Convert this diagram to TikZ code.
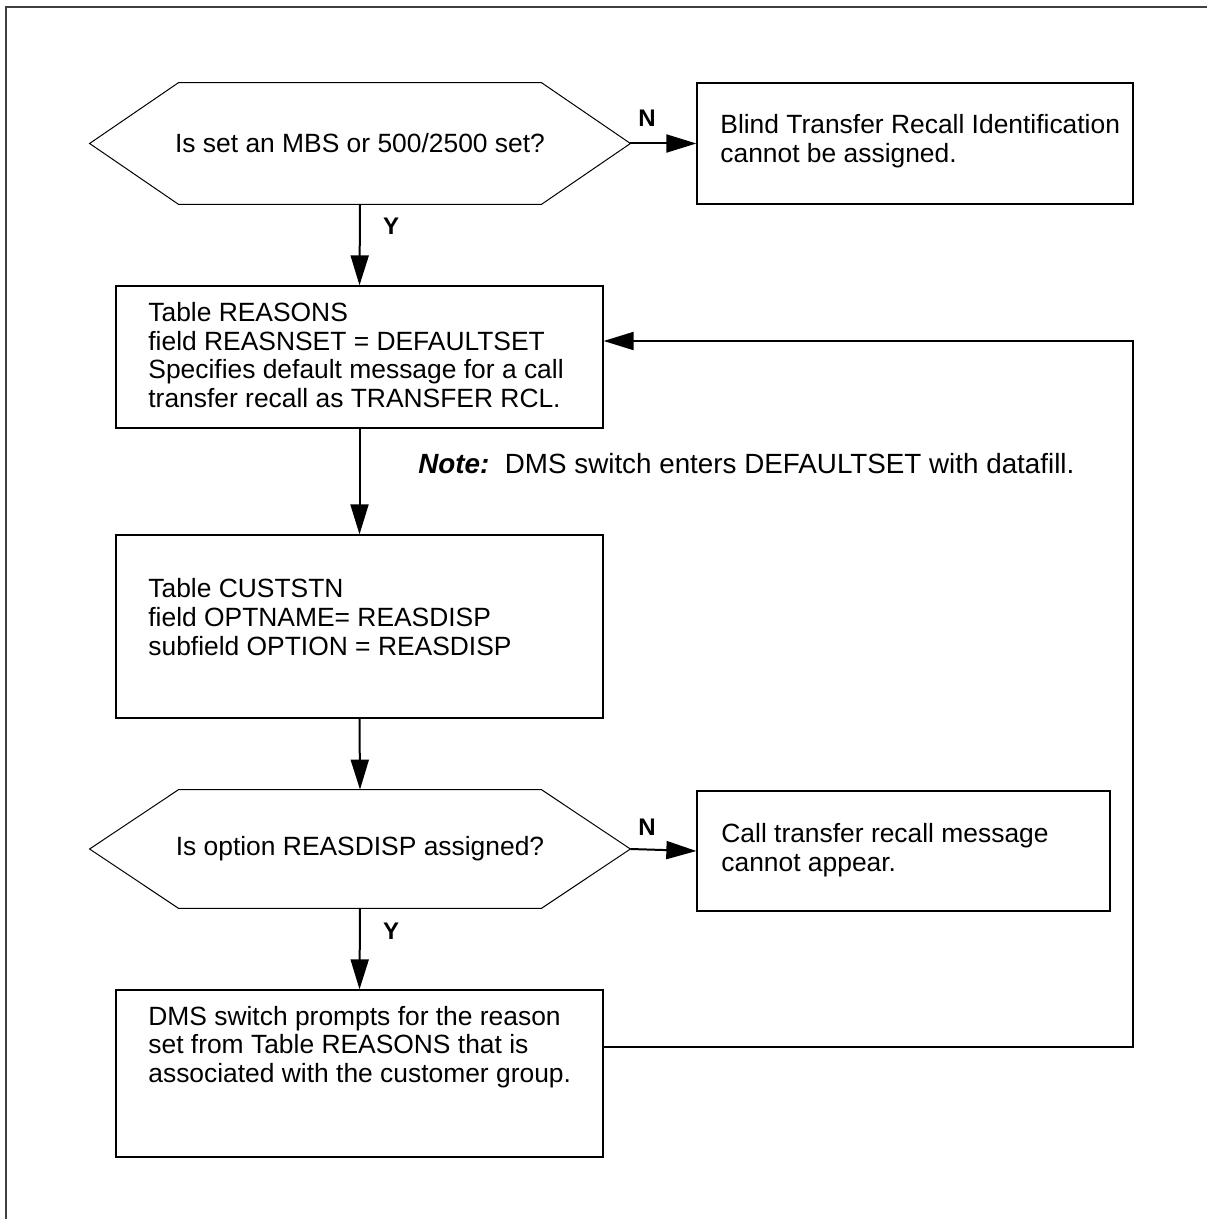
\documentclass[tikz,border=0pt]{standalone}
\usepackage{fontspec}
\setmainfont{Liberation Sans}
\usetikzlibrary{arrows.meta,calc}

\newcommand\bodyfont{\fontsize{13.2}{14.4}\selectfont}
\newcommand\notefont{\fontsize{13.9}{15}\selectfont}
\newcommand\flagfont{\fontsize{12}{14}\selectfont\bfseries}

% outline of a decision node: a hexagon inside the node's bounding box
\newcommand\drawhex[1]{%
  \draw[hexline] (#1.west) -- ($(#1.north west)+(89,0)$) -- ($(#1.north east)+(-89,0)$)
    -- (#1.east) -- ($(#1.south east)+(-89,0)$) -- ($(#1.south west)+(89,0)$) -- cycle;}

\begin{document}
\begin{tikzpicture}[x=0.5pt,y=-0.5pt,
  box/.style={draw, line width=0.65pt, inner sep=0pt},
  hexline/.style={line width=0.5pt},
  decision/.style={inner sep=0pt, font=\bodyfont, minimum width=270pt},
  txt/.style={inner sep=0pt, align=left, anchor=west, font=\bodyfont},
  flag/.style={inner sep=0pt, font=\flagfont},
  flow/.style={line width=1pt, -{Triangle[length=15pt,width=9pt]}}]

\useasboundingbox (0,0) rectangle (1207,1219);

% page frame
\draw[line width=0.8pt, black!75] (6,1219) -- (6,7) -- (1207,7);

% first decision
\node[decision, minimum height=60.5pt] (q1) at (360,143.5) {Is set an MBS or 500/2500 set?};
\drawhex{q1}

\node[box, minimum width=218pt, minimum height=60.5pt] (blind) at (915,143.5) {};
\node[txt] (blindtext) at (720,141) {Blind Transfer Recall Identification\\cannot be assigned.};

% table REASONS
\node[box, minimum width=243.5pt, minimum height=71pt] (reasons) at (359.5,357) {};
\node[txt] (reasonstext) at (148,355) {Table REASONS\\field REASNSET = DEFAULTSET\\Specifies default message for a call\\transfer recall as TRANSFER RCL.};

\node[txt, font=\notefont] (note) at (418,464) {\textbf{\textit{Note:}}\ \ DMS switch enters DEFAULTSET with datafill.};

% table CUSTSTN
\node[box, minimum width=243.5pt, minimum height=91.5pt] (custstn) at (359.5,626.5) {};
\node[txt] (custstntext) at (148,617) {Table CUSTSTN\\field OPTNAME= REASDISP\\subfield OPTION = REASDISP};

% second decision
\node[decision, minimum height=59pt] (q2) at (360,849) {Is option REASDISP assigned?};
\drawhex{q2}

\node[box, minimum width=206.5pt, minimum height=60pt] (callbox) at (903.5,851) {};
\node[txt] (calltext) at (721,850) {Call transfer recall message\\cannot appear.};

% prompt for reason set
\node[box, minimum width=243.5pt, minimum height=83.5pt] (dms) at (359.5,1073.5) {};
\node[txt] (dmstext) at (148,1047) {DMS switch prompts for the reason\\set from Table REASONS that is\\associated with the customer group.};

% branch flags
\node[flag] (n1) at (647,118) {N};
\node[flag] (y1) at (391,226) {Y};
\node[flag] (n2) at (647,827) {N};
\node[flag] (y2) at (391,931) {Y};

% connectors
\draw[flow] (q1.east) -- (blind.west);
\draw[flow] (q1.south) -- (reasons.north);
\draw[flow] (reasons.south) -- (custstn.north);
\draw[flow] (custstn.south) -- (q2.north);
\draw[flow] (q2.east) -- (callbox.west);
\draw[flow] (q2.south) -- (dms.north);

\coordinate (loopbottom) at (1133,1047);
\coordinate (looptop) at (1133,341);
\draw[flow] (dms.east |- loopbottom) -- (loopbottom) -- (looptop) -- (reasons.east |- looptop);
\end{tikzpicture}
\end{document}
